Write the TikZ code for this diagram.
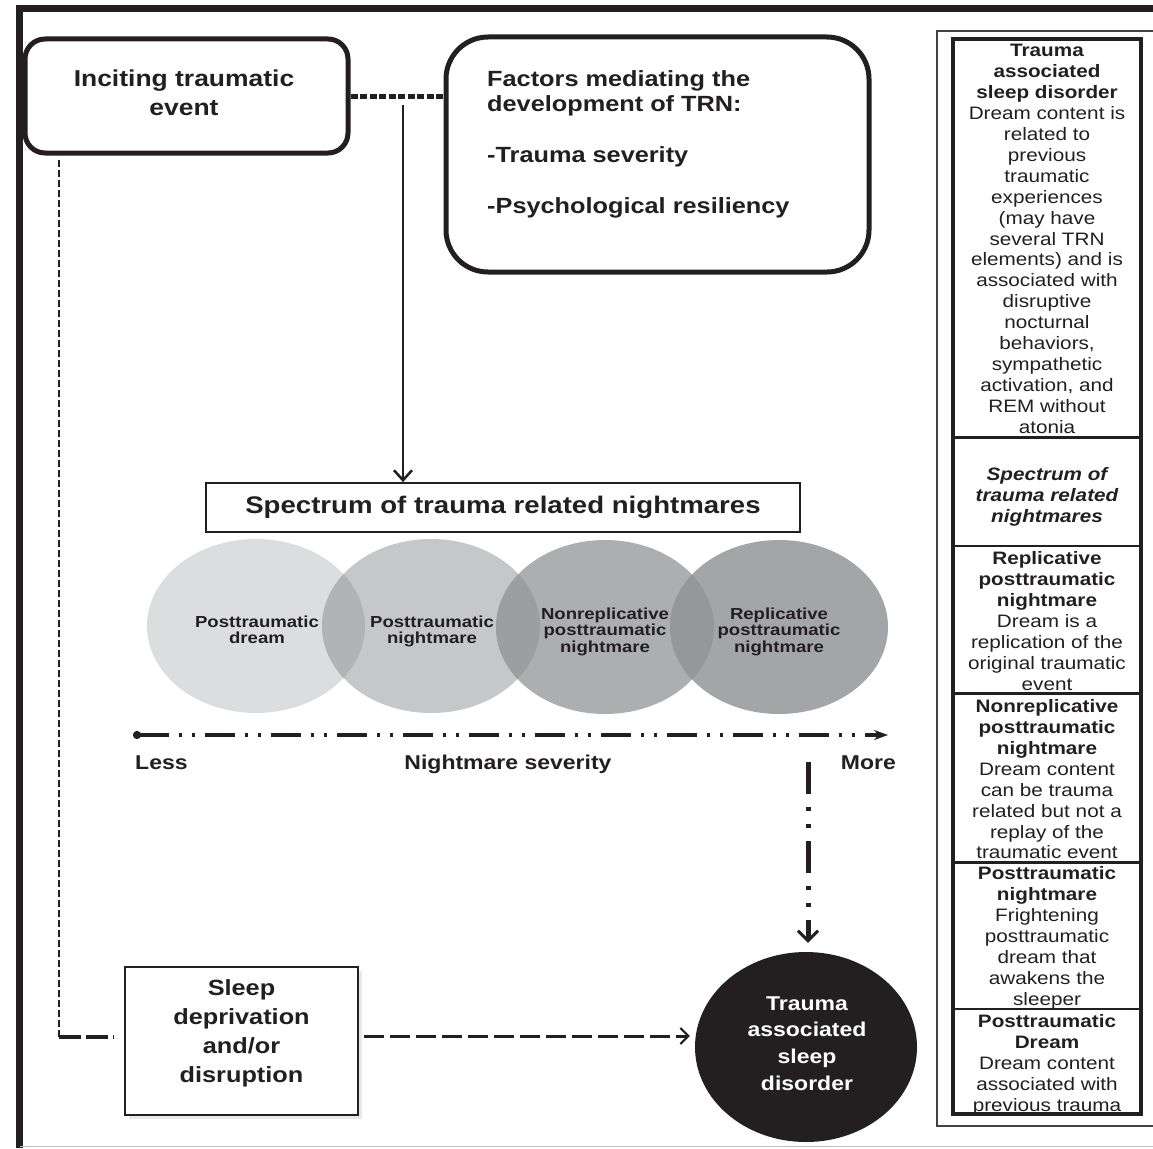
\documentclass[tikz,border=0pt]{standalone}
\usepackage{fontspec}
\setmainfont{Liberation Sans}[FakeStretch=1.15]
\newfontfamily\condfont{Liberation Sans}[FakeStretch=1.16]
\usetikzlibrary{arrows.meta,shapes.geometric,shadows}
\definecolor{ink}{HTML}{231F20}
\definecolor{cA}{HTML}{DCDDDF}
\definecolor{cB}{HTML}{C6C7C9}
\definecolor{cC}{HTML}{ADAEB0}
\definecolor{cD}{HTML}{A4A5A7}
\definecolor{lAB}{HTML}{B2B3B5}
\definecolor{lBC}{HTML}{9D9EA0}
\definecolor{lCD}{HTML}{96979A}
\newcommand\myfs[2]{\fontsize{#1}{#2}\selectfont}
\begin{document}
\begin{tikzpicture}[x=1pt,y=-1pt,
  every node/.style={text=ink},
  rbox/.style={draw=ink, line width=5pt, fill=white, inner sep=0pt},
  fst/.style={execute at begin node=\strut},
  bigtxt/.style={font=\myfs{23}{29}\bfseries, align=center, inner sep=0pt, fst},
  factxt/.style={font=\myfs{22}{25.5}\bfseries, align=left, inner sep=0pt, fst},
  circ/.style={ellipse, minimum width=218pt, minimum height=174pt, inner sep=0pt},
  circtxt/.style={font=\condfont\myfs{16}{16.5}\bfseries, align=center, inner sep=0pt, fst},
  paneltxt/.style={font=\myfs{18}{20.9}, align=center, inner sep=0pt, fst, anchor=north},
  solidarrow/.style={draw=ink, line width=2.5pt, -{Straight Barb[length=10pt,width=18pt,line width=2.5pt]}},
  ddarrow/.style={draw=ink, line width=5pt, dash pattern=on 32pt off 13pt on 4pt off 13pt on 4pt off 13pt, -{Straight Barb[length=10pt,width=20pt,line width=3pt]}},
  axisline/.style={draw=ink, line width=3.5pt, dash pattern=on 30pt off 10pt on 3pt off 10pt on 3pt off 10pt, {Circle[length=8pt]}-{Stealth[length=14pt,width=10pt]}},
  thindash/.style={draw=ink, line width=2.2pt, dash pattern=on 7pt off 3pt},
  longdash/.style={draw=ink, line width=3.5pt, dash pattern=on 22pt off 5pt},
  arrdash/.style={draw=ink, line width=3pt, dash pattern=on 20pt off 6pt, -{Straight Barb[length=8pt,width=16pt,line width=2pt]}},
  dotconn/.style={draw=ink, line width=5pt, dash pattern=on 7pt off 2.5pt}
]
\useasboundingbox (0,0) rectangle (1153,1148);
\fill[white] (0,0) rectangle (1153,1148);

% outer frame
\draw[ink, line width=7pt] (19.5,1148) -- (19.5,8.5) -- (1153,8.5);
\draw[gray!50, line width=1.2pt] (19.5,1146.5) -- (1153,1146.5);

% Inciting traumatic event
\node[rbox, rounded corners=20pt, minimum width=323pt, minimum height=114pt] (inc) at (186.5,96) {};
\node[bigtxt, anchor=north] (inctxt) at (184,69.7) {Inciting traumatic\\event};

% Factors box
\node[rbox, rounded corners=42pt, minimum width=423pt, minimum height=235pt] (fac) at (657.5,154.5) {};
\node[factxt, anchor=north west] (factext) at (487,70) {Factors mediating the\\development of TRN:\\\mbox{}\\-Trauma severity\\\mbox{}\\-Psychological resiliency};

% connector inciting -- factors
\draw[dotconn] (inc.east) -- (fac.west |- inc.east);
\coordinate (j) at (403,96);

% Spectrum box
\node[draw=ink, line width=1.8pt, minimum width=594pt, minimum height=49pt, inner sep=0pt, font=\myfs{24}{28}\bfseries] (spec) at (503,507.5) {Spectrum of trauma related nightmares};
\draw[solidarrow, shorten <=9pt] (j) -- (spec.north -| j);

% circles
\node[circ, fill=cA] (c1) at (256,626) {};
\node[circ, fill=cB] (c2) at (431,626) {};
\node[circ, fill=cC] (c3) at (605,627) {};
\node[circ, fill=cD] (c4) at (779,627) {};
\begin{scope}
  \clip (c1.center) ellipse [x radius=109pt, y radius=87pt];
  \fill[lAB] (c2.center) ellipse [x radius=109pt, y radius=87pt];
\end{scope}
\begin{scope}
  \clip (c2.center) ellipse [x radius=109pt, y radius=87pt];
  \fill[lBC] (c3.center) ellipse [x radius=109pt, y radius=87pt];
\end{scope}
\begin{scope}
  \clip (c3.center) ellipse [x radius=109pt, y radius=87pt];
  \fill[lCD] (c4.center) ellipse [x radius=109pt, y radius=87pt];
\end{scope}
\node[circtxt, anchor=north] (t1) at (257,615.5) {Posttraumatic\\dream};
\node[circtxt, anchor=north] (t2) at (432,615.5) {Posttraumatic\\nightmare};
\node[circtxt, anchor=north] (t3) at (605,607.5) {Nonreplicative\\posttraumatic\\nightmare};
\node[circtxt, anchor=north] (t4) at (779,607.5) {Replicative\\posttraumatic\\nightmare};

% severity axis
\coordinate (axl) at (133,735);
\coordinate (axr) at (888,735);
\draw[axisline] (axl) -- (axr);
\node[font=\myfs{20}{24}\bfseries, inner sep=0pt, anchor=base west] (less) at (135,769) {Less};
\node[font=\myfs{20}{24}\bfseries, inner sep=0pt, anchor=base] (sev) at (508,769) {Nightmare severity};
\node[font=\myfs{20}{24}\bfseries, inner sep=0pt, anchor=base east] (more) at (896,769) {More};

% Trauma associated sleep disorder
\node[ellipse, fill=ink, minimum width=222pt, minimum height=190pt, inner sep=0pt] (tasd) at (806,1047) {};
\node[font=\myfs{20}{26.7}\bfseries, text=white, align=center, inner sep=0pt, fst, anchor=north] (tasdtxt) at (807,996.3) {Trauma\\associated\\sleep\\disorder};

\coordinate (vd) at (808,762);
\draw[ddarrow, shorten >=9pt] (vd) -- (tasd.north -| vd);

% Sleep deprivation box
\node[draw=ink, line width=2.5pt, fill=white, minimum width=233pt, minimum height=148pt, inner sep=0pt,
      drop shadow={shadow xshift=4pt, shadow yshift=-4pt, fill=gray!35}] (sleep) at (241.5,1041) {};
\node[font=\myfs{22}{29}\bfseries, align=center, inner sep=0pt, fst, anchor=north] (sleeptxt) at (241.5,979.7) {Sleep\\deprivation\\and/or\\disruption};

\draw[arrdash] ([xshift=5pt,yshift=5pt]sleep.east) -- ([xshift=-5pt,yshift=11pt]tasd.west);

% left dashed connector
\coordinate (lc) at (59,1037);
\draw[thindash, shorten <=4pt] (inc.south -| lc) -- (lc);
\draw[longdash, shorten >=10pt] (lc) -- (sleep.west |- lc);

% right panel
\draw[ink!85, line width=1.5pt] (1153,31) -- (937,31) -- (937,1126) -- (1153,1126);
\draw[ink, line width=3.5pt] (953,39) rectangle (1141,1114);
\foreach \yy in {437,693,862} \draw[ink, line width=3pt] (953,\yy) -- (1141,\yy);
\foreach \yy in {546,1009} \draw[ink, line width=2pt] (953,\yy) -- (1141,\yy);

\node[paneltxt] (s1) at (1047,44.4) {\textbf{Trauma}\\\textbf{associated}\\\textbf{sleep disorder}\\Dream content is\\related to\\previous\\traumatic\\experiences\\(may have\\several TRN\\elements) and is\\associated with\\disruptive\\nocturnal\\behaviors,\\sympathetic\\activation, and\\REM without\\atonia};
\node[paneltxt, font=\myfs{18}{20.9}\bfseries\itshape] (s2) at (1047,467.4) {Spectrum of\\trauma related\\nightmares};
\node[paneltxt] (s3) at (1047,551.4) {\textbf{Replicative}\\\textbf{posttraumatic}\\\textbf{nightmare}\\Dream is a\\replication of the\\original traumatic\\event};
\node[paneltxt] (s4) at (1047,699.4) {\textbf{Nonreplicative}\\\textbf{posttraumatic}\\\textbf{nightmare}\\Dream content\\can be trauma\\related but not a\\replay of the\\traumatic event};
\node[paneltxt] (s5) at (1047,866.4) {\textbf{Posttraumatic}\\\textbf{nightmare}\\Frightening\\posttraumatic\\dream that\\awakens the\\sleeper};
\node[paneltxt] (s6) at (1047,1014.4) {\textbf{Posttraumatic}\\\textbf{Dream}\\Dream content\\associated with\\previous trauma};
\end{tikzpicture}
\end{document}
